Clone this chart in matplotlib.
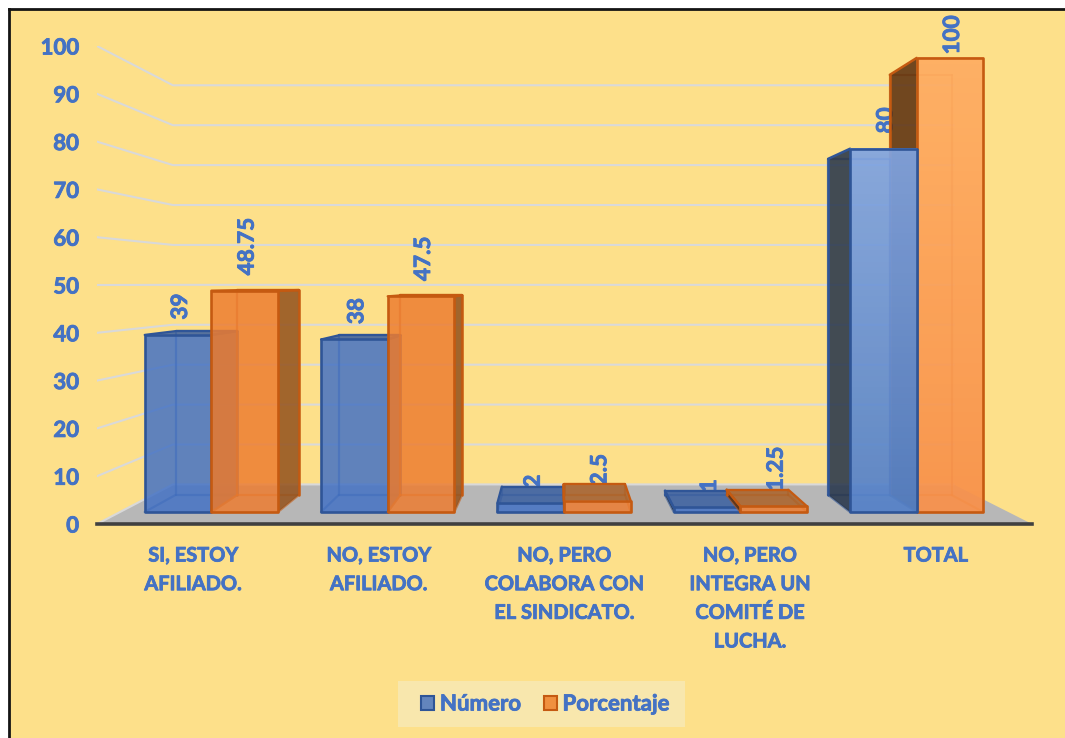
import numpy as np
import matplotlib
matplotlib.use("Agg")
import matplotlib.pyplot as plt
import matplotlib.patheffects as pe
from matplotlib.colors import LinearSegmentedColormap
from matplotlib.lines import Line2D
from matplotlib.patches import Patch, Polygon, Rectangle

plt.rcParams['font.family'] = ['Lato', 'DejaVu Sans']

categorias = ["SI, ESTOY\nAFILIADO.", "NO, ESTOY\nAFILIADO.", "NO, PERO\nCOLABORA CON\nEL SINDICATO.",
              "NO, PERO\nINTEGRA UN\nCOMITÉ DE\nLUCHA.", "TOTAL"]
numero = [39, 38, 2, 1, 80]
porcentaje = [48.75, 47.5, 2.5, 1.25, 100]
ticks_y = [0, 10, 20, 30, 40, 50, 60, 70, 80, 90, 100]

AZUL_TEXTO = '#4472c4'
FONDO = '#fde08a'
GRIS_GRID = '#d9d9d9'
GRUESO = [pe.withStroke(linewidth=0.6, foreground=AZUL_TEXTO)]

# punto de fuga y profundidades de la perspectiva
FUGA_X = 1.96
FUGA_Y = 50.2
S_FONDO = 0.835
S_BARRA_FRENTE = 0.95
S_BARRA_ATRAS = 0.879
ANCHO = 0.378

ESTILO = {
    'azul': dict(frente='#4472c4', borde='#2f5597', izq='#28364c', der='#3a5f9e', techo='#3a5fa0',
                 grad=['#5481c8', '#80a4e2']),
    'naranja': dict(frente='#ed7d31', borde='#c55a11', izq='#5e3210', der='#95541f', techo='#ab6228',
                    grad=['#f8914a', '#ffad62']),
}


def proyectar(x, v, s):
    return (FUGA_X + s * (x - FUGA_X), FUGA_Y + s * (v - FUGA_Y))


def cara(ax, puntos, color, alpha, z):
    ax.add_patch(Polygon(puntos, closed=True, facecolor=color, alpha=alpha, edgecolor='none', zorder=z))


def arista(ax, p, q, color, lw, z, alpha=1.0):
    ax.plot([p[0], q[0]], [p[1], q[1]], color=color, lw=lw, alpha=alpha, zorder=z, solid_capstyle='round')


def barra(ax, x0, x1, v, est, z, degradado=False):
    sf, sa = S_BARRA_FRENTE, S_BARRA_ATRAS
    fbi, fbd = proyectar(x0, 0, sf), proyectar(x1, 0, sf)
    fti, ftd = proyectar(x0, v, sf), proyectar(x1, v, sf)
    abi, abd = proyectar(x0, 0, sa), proyectar(x1, 0, sa)
    ati, atd = proyectar(x0, v, sa), proyectar(x1, v, sa)

    # aristas interiores, se ven a traves de la cara frontal
    for p, q in [(abi, abd), (abi, ati), (abd, atd), (ati, atd), (fbi, abi), (fbd, abd)]:
        arista(ax, p, q, est['borde'], 1.6, z, alpha=0.6)

    # caras laterales y techo segun el lado del punto de fuga
    if x0 > FUGA_X:
        cara(ax, [fbi, abi, ati, fti], est['izq'], 0.88, z + 0.1)
        arista(ax, ati, fti, est['borde'], 1.8, z + 0.2)
        arista(ax, abi, ati, est['borde'], 1.8, z + 0.2)
    if x1 < FUGA_X:
        cara(ax, [fbd, abd, atd, ftd], est['der'], 0.88, z + 0.1)
        arista(ax, atd, ftd, est['borde'], 1.8, z + 0.2)
        arista(ax, abd, atd, est['borde'], 1.8, z + 0.2)
    if v < FUGA_Y:
        cara(ax, [fti, ftd, atd, ati], est['techo'], 0.85, z + 0.3)
        arista(ax, ati, atd, est['borde'], 1.6, z + 0.35)
        arista(ax, fti, ati, est['borde'], 1.6, z + 0.35)
        arista(ax, ftd, atd, est['borde'], 1.6, z + 0.35)

    # cara frontal
    if degradado:
        cmap = LinearSegmentedColormap.from_list('g', est['grad'])
        ax.imshow(np.linspace(0, 1, 64).reshape(-1, 1), cmap=cmap, origin='lower', aspect='auto', alpha=0.93,
                  extent=(fbi[0], fbd[0], fbi[1], fti[1]), zorder=z + 0.4)
    else:
        cara(ax, [fbi, fbd, ftd, fti], est['frente'], 0.85, z + 0.4)
    ax.add_patch(Polygon([fbi, fbd, ftd, fti], closed=True, facecolor='none', edgecolor=est['borde'],
                         lw=1.9, joinstyle='round', zorder=z + 0.5))


fig = plt.figure(figsize=(10.65, 7.38), dpi=100, facecolor='white')

# fondo con el marco negro arriba y a la izquierda
fig.add_artist(Rectangle((9 / 1065, 0), 1056 / 1065, 1 - 9 / 738, transform=fig.transFigure,
                         facecolor=FONDO, edgecolor='none', zorder=-3))
fig.add_artist(Line2D([9 / 1065, 1], [1 - 9 / 738, 1 - 9 / 738], transform=fig.transFigure,
                      color='#141414', lw=2, zorder=-2))
fig.add_artist(Line2D([9 / 1065, 9 / 1065], [0, 1 - 9 / 738], transform=fig.transFigure,
                      color='#141414', lw=2, zorder=-2))
# recuadro claro de la leyenda
fig.add_artist(Rectangle((398 / 1065, 1 - 727 / 738), 287 / 1065, 46 / 738, transform=fig.transFigure,
                         facecolor='#f8e7ad', edgecolor='none', zorder=-2))

ax = fig.add_axes([97 / 1065, (738 - 524) / 738, 935 / 1065, 478 / 738])
ax.patch.set_alpha(0)

x_izq, x_der = -0.518, 4.519

# suelo gris
ax.add_patch(Polygon([proyectar(x_izq, 0, 1), proyectar(x_der, 0, 1),
                      proyectar(x_der, 0, S_FONDO), proyectar(x_izq, 0, S_FONDO)],
                     closed=True, facecolor='#b7b7b7', edgecolor='none', zorder=1))

# rejilla: tramo lateral y tramo sobre la pared del fondo
for t in ticks_y:
    a = proyectar(x_izq, t, 1)
    b = proyectar(x_izq, t, S_FONDO)
    c = proyectar(x_der, t, S_FONDO)
    ax.plot([a[0], b[0], c[0]], [a[1], b[1], c[1]], color=GRIS_GRID, lw=1.5, zorder=2)

for i in range(len(categorias)):
    # TOTAL cae a la derecha de la fuga, asi que el naranja va detras
    z_azul, z_nar = (6, 4) if i == 4 else (4, 6)
    barra(ax, i - ANCHO, i, numero[i], ESTILO['azul'], z_azul, degradado=i == 4)
    barra(ax, i, i + ANCHO, porcentaje[i], ESTILO['naranja'], z_nar, degradado=i == 4)

    for x, v in [(i - ANCHO / 2, numero[i]), (i + ANCHO / 2, porcentaje[i])]:
        pad = 2.5 if v == 100 else 11
        ax.annotate(f"{v:g}", xy=proyectar(x, v, S_BARRA_FRENTE), xytext=(1.8, pad), textcoords='offset points',
                    rotation=90, ha='center', va='bottom', color=AZUL_TEXTO, fontsize=16.2,
                    fontweight='bold', zorder=3, annotation_clip=False, path_effects=GRUESO)

ax.set_xlim(x_izq, x_der)
ax.set_ylim(0, 100)
ax.set_xticks(range(len(categorias)))
ax.set_xticklabels(categorias, fontsize=14.4, fontweight='bold', color=AZUL_TEXTO, linespacing=1.54,
                   path_effects=GRUESO)
ax.set_yticks(ticks_y)
ax.set_yticklabels([str(t) for t in ticks_y], fontsize=16, fontweight='bold', color=AZUL_TEXTO,
                   path_effects=GRUESO)
ax.tick_params(axis='x', length=0, pad=15.5)
ax.tick_params(axis='y', length=0, pad=13)
for lado in ['top', 'left', 'right']:
    ax.spines[lado].set_visible(False)
ax.spines['bottom'].set_color('#404040')
ax.spines['bottom'].set_linewidth(2.6)
ax.spines['bottom'].set_zorder(8)

manejadores = [Patch(facecolor='#6385bd', edgecolor='#2f5597', lw=1.5, label='Número'),
               Patch(facecolor='#f0903f', edgecolor='#c55a11', lw=1.5, label='Porcentaje')]
leyenda = fig.legend(handles=manejadores, loc='center', bbox_to_anchor=(545.5 / 1065, 1 - 704 / 738), ncol=2,
                     prop=dict(size=16, weight='bold'), labelcolor=AZUL_TEXTO, frameon=False,
                     handlelength=0.6, handleheight=0.6, handletextpad=0.25, columnspacing=1.0)
for texto in leyenda.get_texts():
    texto.set_path_effects(GRUESO)

fig.savefig('out.png', dpi=100)
